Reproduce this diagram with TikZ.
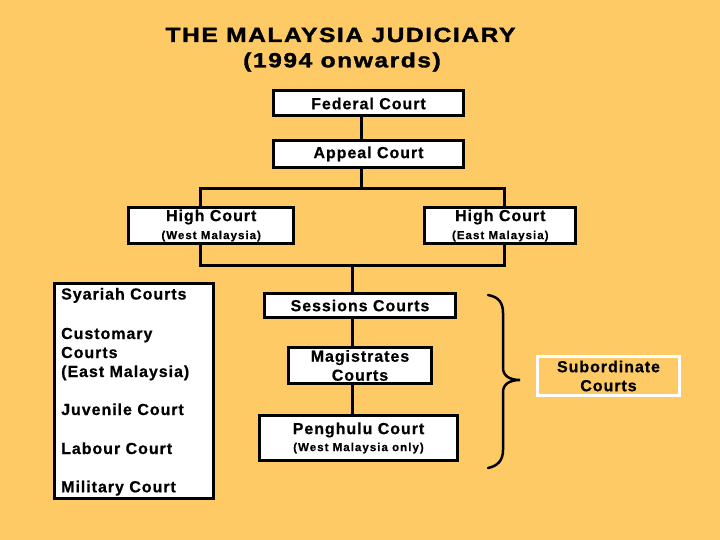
\documentclass[tikz,border=0pt]{standalone}
\usepackage{fontspec}
\setmainfont{Liberation Sans}
\newfontfamily\boxfont{Liberation Sans}[LetterSpace=6,FakeBold=0.6]
\newfontfamily\smallboxfont{Liberation Sans}[LetterSpace=9,FakeBold=0.6]
\newfontfamily\titlefont{Liberation Sans}[FakeStretch=1.2,LetterSpace=7.5,FakeBold=1.6]
\definecolor{bg}{RGB}{253,202,102}
\begin{document}
\begin{tikzpicture}[x=1pt,y=-1pt,
  box/.style={draw=black, line width=3pt, fill=white, inner sep=0pt, align=center,
    font=\boxfont\bfseries\fontsize{16}{19}\selectfont},
  conn/.style={draw=black, line width=3pt},
  ltext/.style={anchor=base west, inner sep=0pt, font=\boxfont\bfseries\fontsize{16}{19}\selectfont},
  ttext/.style={anchor=base, inner sep=0pt, font=\titlefont\bfseries\fontsize{20.5}{24}\selectfont}]
\fill[bg] (0,0) rectangle (720,540);
\useasboundingbox (0,0) rectangle (720,540);
% title
\node[ttext] (t1) at (340.5,42) {THE MALAYSIA JUDICIARY};
\node[ttext] (t2) at (342,67.3) {(1994 onwards)};
% upper boxes
\node[box, minimum width=190, minimum height=25] (fed) at (368.5,103.5) {Federal Court};
\node[box, minimum width=190, minimum height=27] (app) at (368.5,154) {Appeal Court};
\node[box, minimum width=165, minimum height=35] (hw) at (211.2,225.5)
  {High Court\\[-1pt]{\smallboxfont\bfseries\fontsize{11.5}{13}\selectfont (West Malaysia)}};
\node[box, minimum width=151, minimum height=35] (he) at (500.3,225.5)
  {High Court\\[-1pt]{\smallboxfont\bfseries\fontsize{11.5}{13}\selectfont (East Malaysia)}};
% subordinate courts
\node[box, minimum width=191, minimum height=24] (ses) at (360,305.5) {Sessions Courts};
\node[box, minimum width=143, minimum height=36] (mag) at (360,365.5) {Magistrates\\Courts};
\node[box, minimum width=198, minimum height=45] (pen) at (358.5,438)
  {Penghulu Court\\[-2pt]{\smallboxfont\bfseries\fontsize{11.5}{13}\selectfont (West Malaysia only)}};
% side box
\node[box, minimum width=159, minimum height=215] (side) at (134,391) {};
\node[ltext] (sy) at (61,299.5) {Syariah Courts};
\node[ltext] (cu1) at (61,339) {Customary};
\node[ltext] (cu2) at (61,358) {Courts};
\node[ltext] (cu3) at (61,377) {(East Malaysia)};
\node[ltext] (ju) at (61,415) {Juvenile Court};
\node[ltext] (la) at (61,454) {Labour Court};
\node[ltext] (mi) at (61,492.3) {Military Court};
% subordinate label
\node[box, draw=white, fill=none, minimum width=142, minimum height=39] (sub) at (608.5,376) {Subordinate\\Courts};
% connectors
\coordinate (xa) at (361,0);
\coordinate (jl) at (200.5,188.5);
\coordinate (jr) at (504,188.5);
\coordinate (kl) at (200.5,265);
\coordinate (kr) at (504,265);
\coordinate (xs) at (352,0);
\draw[conn] (fed.south -| xa) -- (app.north -| xa);
\draw[conn] (app.south -| xa) -- (jl -| xa);
\draw[conn] (hw.north -| jl) -- (jl) -- (jr) -- (he.north -| jr);
\draw[conn] (hw.south -| kl) -- (kl) -- (kr) -- (he.south -| kr);
\draw[conn] (kl -| xs) -- (ses.north -| xs);
\draw[conn] (ses.south -| xs) -- (mag.north -| xs);
\draw[conn] (mag.south -| xs) -- (pen.north -| xs);
% brace
\draw[line width=2.5pt, line cap=round]
  (488,295) .. controls (499,297) and (503,303) .. (503,313) -- (503,368)
  .. controls (503,376) and (510,380) .. (520,380)
  .. controls (510,380) and (503,384) .. (503,392) -- (503,450)
  .. controls (503,460) and (498,466) .. (488,468);
\end{tikzpicture}
\end{document}
